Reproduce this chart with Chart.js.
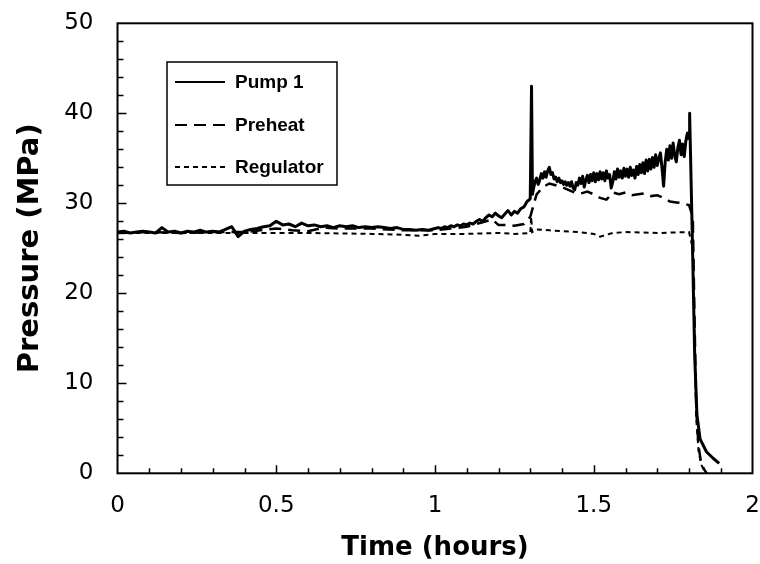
<!DOCTYPE html>
<html><head><meta charset="utf-8">
<script src="https://cdn.jsdelivr.net/npm/chart.js@4/dist/chart.umd.min.js"></script>
<style>html,body{margin:0;padding:0;background:#fff}</style>
</head><body>
<canvas id="c" width="760" height="564"></canvas>
<script>
// pressure traces (time in hours, pressure in MPa)
const pumpTime = [
  0, 0.02, 0.04, 0.06, 0.08, 0.10, 0.12, 0.14, 0.16, 0.18, 0.20, 0.22, 0.24, 0.26, 0.28, 0.30, 0.32, 0.34, 0.36, 0.38,
  0.40, 0.42, 0.44, 0.46, 0.48, 0.50, 0.52, 0.54, 0.56, 0.58, 0.60, 0.62, 0.64, 0.66, 0.68, 0.70, 0.72, 0.74, 0.76, 0.78,
  0.80, 0.82, 0.84, 0.86, 0.88, 0.90, 0.92, 0.94, 0.96, 0.98, 1.00,
  1.01, 1.02, 1.03, 1.04, 1.05, 1.06, 1.07, 1.08, 1.09, 1.10, 1.11, 1.12, 1.13, 1.14, 1.15, 1.16, 1.17, 1.18, 1.19, 1.20,
  1.21, 1.22, 1.23, 1.24, 1.25, 1.26, 1.27, 1.28, 1.29, 1.30, 1.304, 1.307,
  1.310, 1.315, 1.320, 1.325, 1.330, 1.335, 1.340, 1.345, 1.350, 1.355, 1.360, 1.365, 1.370, 1.375, 1.380, 1.385, 1.390, 1.395, 1.400,
  1.405, 1.410, 1.415, 1.420, 1.425, 1.430, 1.435, 1.440, 1.445, 1.450, 1.455, 1.460, 1.465, 1.470, 1.475, 1.480, 1.485, 1.490, 1.495, 1.500,
  1.505, 1.510, 1.515, 1.520, 1.525, 1.530, 1.535, 1.540, 1.545, 1.550, 1.555, 1.560, 1.565, 1.570, 1.575, 1.580, 1.585, 1.590, 1.595, 1.600,
  1.605, 1.610, 1.615, 1.620, 1.625, 1.630, 1.635, 1.640, 1.645, 1.650, 1.655, 1.660, 1.665, 1.670, 1.675, 1.680, 1.685, 1.690, 1.695, 1.700,
  1.705, 1.710, 1.715, 1.720, 1.725, 1.730, 1.735, 1.740, 1.745, 1.750, 1.755, 1.760, 1.765, 1.770, 1.775, 1.780, 1.785, 1.790, 1.795, 1.800,
  1.802, 1.81, 1.818, 1.825, 1.835, 1.855, 1.875, 1.895
];
const pumpPressure = [
  26.8, 26.9, 26.7, 26.8, 26.9, 26.8, 26.7, 27.3, 26.8, 26.9, 26.7, 26.9, 26.8, 27.0, 26.8, 26.9, 26.8, 27.1, 27.4, 26.3,
  26.9, 27.1, 27.2, 27.4, 27.5, 28.0, 27.6, 27.7, 27.4, 27.8, 27.5, 27.6, 27.4, 27.5, 27.3, 27.5, 27.4, 27.5, 27.3, 27.4,
  27.3, 27.4, 27.3, 27.2, 27.3, 27.1, 27.1, 27.0, 27.1, 27.0, 27.2,
  27.3, 27.2, 27.4, 27.3, 27.5, 27.4, 27.6, 27.5, 27.7, 27.6, 27.8, 27.7, 28.0, 28.2, 28.0, 28.4, 28.7, 28.5, 28.9, 28.6,
  28.4, 28.8, 29.2, 28.7, 29.1, 28.9, 29.4, 29.6, 30.2, 30.5, 43.0, 31.0,
  31.6, 32.4, 32.8, 32.1, 32.6, 33.3, 32.8, 33.5, 32.9, 33.6, 34.0, 33.2, 33.4, 32.7, 32.9, 32.4, 32.8, 32.3, 32.5,
  32.1, 32.4, 32.0, 32.3, 31.9, 32.4, 31.7, 31.5, 32.3, 32.0, 32.8, 32.2, 33.0, 31.8, 32.6, 33.1, 32.3, 33.2, 32.5, 33.4,
  32.4, 33.3, 32.6, 33.5, 32.7, 33.4, 32.5, 33.6, 32.8, 33.2, 31.7, 32.4, 33.5, 32.7, 33.8, 32.9, 33.6, 32.8, 33.9, 33.0,
  33.8, 32.9, 34.0, 33.1, 33.7, 32.8, 34.1, 33.2, 34.3, 33.4, 34.5, 33.3, 34.8, 33.6, 34.9, 33.8, 35.1, 34.0, 35.4, 34.2,
  35.0, 35.6, 33.9, 31.9, 34.6, 36.0, 34.8, 36.4, 35.0, 36.7, 35.3, 34.6, 36.2, 37.0, 35.4, 36.6, 35.2, 36.9, 37.8, 37.2,
  40.0, 27.0, 13.0, 6.5, 3.8, 2.4, 1.7, 1.1
];
const preheatTime = [
  0, 0.1, 0.2, 0.3, 0.4, 0.5, 0.55, 0.6, 0.65, 0.7, 0.8, 0.9, 1.0, 1.05, 1.1, 1.15, 1.18, 1.2, 1.22, 1.25, 1.28, 1.30,
  1.32, 1.34, 1.36, 1.38, 1.40, 1.42, 1.44, 1.46, 1.48, 1.50, 1.52, 1.54, 1.56, 1.58, 1.60, 1.62, 1.64, 1.66, 1.68, 1.70,
  1.72, 1.74, 1.76, 1.78, 1.80, 1.812, 1.817, 1.823, 1.83, 1.838, 1.848, 1.856
];
const preheatPressure = [
  26.7, 26.8, 26.7, 26.8, 26.8, 27.2, 27.0, 26.9, 27.3, 27.2, 27.2, 27.0, 27.0, 27.2, 27.4, 27.9, 28.2, 27.6, 27.6, 27.5, 27.7, 28.5,
  31.0, 31.8, 32.2, 32.0, 31.8, 31.5, 31.2, 31.1, 31.3, 31.0, 30.6, 30.4, 31.2, 31.0, 31.2, 30.9, 31.0, 31.1, 30.8, 30.9,
  30.6, 30.2, 30.1, 30.0, 29.8, 28.5, 18.0, 7.0, 3.0, 1.2, 0.4, 0
];
const regulatorTime = [
  0, 0.2, 0.4, 0.6, 0.8, 0.9, 0.95, 1.0, 1.1, 1.2, 1.25, 1.30, 1.303, 1.306, 1.32, 1.36, 1.40, 1.45, 1.50, 1.52,
  1.54, 1.56, 1.60, 1.70, 1.80, 1.812, 1.817, 1.823, 1.83, 1.838, 1.848, 1.856
];
const regulatorPressure = [
  26.7, 26.7, 26.7, 26.7, 26.6, 26.5, 26.4, 26.6, 26.6, 26.7, 26.6, 26.7, 28.5, 26.8, 27.1, 27.0, 26.9, 26.8, 26.6, 26.3,
  26.5, 26.7, 26.8, 26.7, 26.8, 25.0, 15.0, 6.0, 2.5, 1.0, 0.3, 0
];
const seriesNames = ["Pump 1", "Preheat", "Regulator"];
const xTicks = [0, 0.5, 1, 1.5, 2];
const yTicks = [0, 10, 20, 30, 40, 50];

const LABEL_FONT = "'DejaVu Sans', sans-serif";
const LEGEND_FONT = "'Liberation Sans', Arial, sans-serif";
const toPoints = (xs, ys) => xs.map((x, i) => ({x, y: ys[i]}));

// frame, inward tick marks and the boxed legend
const framePlugin = {
  id: "frame",
  afterDraw(chart) {
    const {ctx, chartArea: a, scales: {x, y}} = chart;
    ctx.save();
    ctx.strokeStyle = "#000";
    ctx.lineWidth = 2;
    ctx.strokeRect(a.left, a.top, a.right - a.left, a.bottom - a.top);
    ctx.lineWidth = 1.5;
    ctx.beginPath();
    for (let i = 1; i < 20; i++) {
      const px = Math.round(x.getPixelForValue(i / 10)) + 0.5;
      const len = i % 5 === 0 ? 8 : 5;
      ctx.moveTo(px, a.bottom);
      ctx.lineTo(px, a.bottom - len);
    }
    for (let v = 2; v < 50; v += 2) {
      const py = Math.round(y.getPixelForValue(v)) + 0.5;
      const len = v % 10 === 0 ? 9 : 6;
      ctx.moveTo(a.left, py);
      ctx.lineTo(a.left + len, py);
    }
    ctx.stroke();

    // legend
    ctx.lineWidth = 1.5;
    ctx.strokeRect(167, 62, 170, 123);
    ctx.font = "bold 19px " + LEGEND_FONT;
    ctx.fillStyle = "#000";
    ctx.textBaseline = "middle";
    const rows = [82, 125, 167];
    chart.data.datasets.forEach((ds, i) => {
      ctx.lineWidth = 2;
      ctx.setLineDash(ds.borderDash || []);
      ctx.beginPath();
      ctx.moveTo(175, rows[i]);
      ctx.lineTo(225, rows[i]);
      ctx.stroke();
      ctx.setLineDash([]);
      ctx.fillText(ds.label, 235, rows[i] + 1);
    });
    ctx.restore();
  }
};

new Chart(document.getElementById("c"), {
  type: "scatter",
  data: {
    datasets: [{
      label: seriesNames[0],
      data: toPoints(pumpTime, pumpPressure),
      showLine: true, pointRadius: 0, borderColor: "#000", borderWidth: 3,
      borderJoinStyle: "round", tension: 0
    }, {
      label: seriesNames[1],
      data: toPoints(preheatTime, preheatPressure),
      showLine: true, pointRadius: 0, borderColor: "#000", borderWidth: 2.5,
      borderDash: [12, 7], tension: 0
    }, {
      label: seriesNames[2],
      data: toPoints(regulatorTime, regulatorPressure),
      showLine: true, pointRadius: 0, borderColor: "#000", borderWidth: 2,
      borderDash: [5, 4], tension: 0
    }]
  },
  options: {
    responsive: false,
    animation: false,
    layout: {padding: {left: 0, right: 7.5, top: 23.3, bottom: 0}},
    plugins: {legend: {display: false}, tooltip: {enabled: false}},
    scales: {
      x: {
        type: "linear", min: 0, max: 2,
        afterBuildTicks: s => { s.ticks = xTicks.map(value => ({value})); },
        afterFit: s => { s.height = 90.7; s.paddingLeft = 0; s.paddingRight = 0; },
        grid: {display: false, drawTicks: false},
        border: {display: false},
        ticks: {color: "#000", font: {family: LABEL_FONT, size: 23}, padding: 19, maxRotation: 0,
                callback: v => String(v)},
        title: {display: true, text: "Time (hours)", color: "#000",
                font: {family: LABEL_FONT, size: 26, weight: "bold"}, padding: {top: 0, bottom: 0}}
      },
      y: {
        min: 0, max: 50,
        afterBuildTicks: s => { s.ticks = yTicks.map(value => ({value})); },
        afterFit: s => { s.width = 117.5; s.paddingTop = 0; s.paddingBottom = 0; },
        grid: {display: false, drawTicks: false},
        border: {display: false},
        ticks: {color: "#000", font: {family: LABEL_FONT, size: 23}, padding: 24},
        title: {display: true, text: "Pressure (MPa)", color: "#000",
                font: {family: LABEL_FONT, size: 29, weight: "bold"}, padding: {top: 13, bottom: 0}}
      }
    }
  },
  plugins: [framePlugin]
});
</script>
</body></html>
